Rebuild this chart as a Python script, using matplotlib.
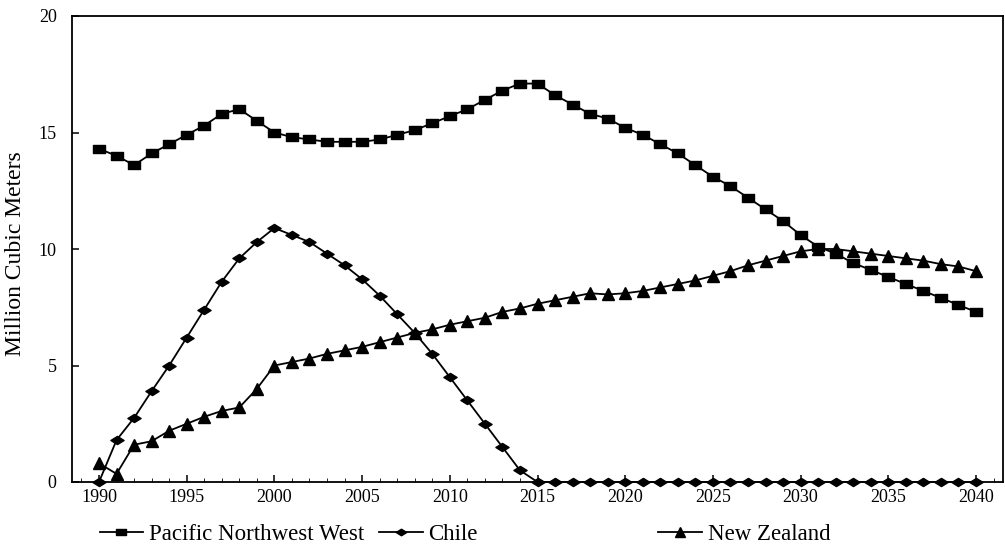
import matplotlib
matplotlib.use("Agg")
import matplotlib.pyplot as plt
from matplotlib.path import Path
from matplotlib.ticker import MultipleLocator

plt.rcParams['font.family'] = ['Liberation Serif', 'DejaVu Serif']

years = list(range(1990, 2041))

pnw = [14.3, 14.0, 13.6, 14.1, 14.5, 14.9, 15.3, 15.8, 16.0, 15.5,
       15.0, 14.8, 14.7, 14.6, 14.6, 14.6, 14.7, 14.9, 15.1, 15.4,
       15.7, 16.0, 16.4, 16.8, 17.1, 17.1, 16.6, 16.2, 15.8, 15.6,
       15.2, 14.9, 14.5, 14.1, 13.6, 13.1, 12.7, 12.2, 11.7, 11.2,
       10.6, 10.1, 9.8, 9.4, 9.1, 8.8, 8.5, 8.2, 7.9, 7.6,
       7.3]

chile = [0.0, 1.8, 2.75, 3.9, 5.0, 6.2, 7.4, 8.6, 9.6, 10.3,
         10.9, 10.6, 10.3, 9.8, 9.3, 8.7, 8.0, 7.2, 6.4, 5.5,
         4.5, 3.5, 2.5, 1.5, 0.5] + [0.0] * 26

nz = [0.8, 0.35, 1.6, 1.75, 2.2, 2.5, 2.8, 3.05, 3.2, 4.0,
      5.0, 5.15, 5.3, 5.5, 5.65, 5.8, 6.0, 6.2, 6.4, 6.55,
      6.75, 6.9, 7.05, 7.3, 7.45, 7.65, 7.8, 7.95, 8.1, 8.05,
      8.1, 8.2, 8.35, 8.5, 8.65, 8.85, 9.05, 9.3, 9.5, 9.7,
      9.9, 10.0, 10.0, 9.9, 9.8, 9.7, 9.6, 9.5, 9.35, 9.25,
      9.05]

labels = ['Pacific Northwest West', 'Chile', 'New Zealand']

# flat rectangle and squashed diamond markers
rect = Path([(-0.7, -0.45), (0.7, -0.45), (0.7, 0.45), (-0.7, 0.45), (-0.7, -0.45)],
            [Path.MOVETO, Path.LINETO, Path.LINETO, Path.LINETO, Path.CLOSEPOLY])
diam = Path([(-1, 0), (0, 0.62), (1, 0), (0, -0.62), (-1, 0)],
            [Path.MOVETO, Path.LINETO, Path.LINETO, Path.LINETO, Path.CLOSEPOLY])

fig = plt.figure(figsize=(10.05, 5.48), dpi=100)
ax = fig.add_axes([72 / 1005, 1 - 482 / 548, (1003 - 72) / 1005, (482 - 16) / 548])

l1, = ax.plot(years, pnw, color='black', lw=1.3, marker=rect, ms=9, clip_on=False)
l2, = ax.plot(years, chile, color='black', lw=1.3, marker=diam, ms=9.5, clip_on=False)
l3, = ax.plot(years, nz, color='black', lw=1.3, marker='^', ms=9, clip_on=False)

ax.set_xlim(1988.46, 2041.54)
ax.set_ylim(0, 20)
ax.set_yticks([0, 5, 10, 15, 20])
ax.xaxis.set_major_locator(MultipleLocator(5))
ax.xaxis.set_minor_locator(MultipleLocator(1))
ax.tick_params(axis='both', direction='in', labelsize=13, width=1.1)
ax.tick_params(axis='x', which='major', length=5, pad=5)
ax.tick_params(axis='x', which='minor', length=3, direction='in')
ax.tick_params(axis='y', length=5, pad=11)
for s in ax.spines.values():
    s.set_linewidth(1.3)
ax.set_ylabel('Million Cubic Meters', fontsize=17)
ax.yaxis.set_label_coords(-46 / 931, 0.49)

# one legend entry per slot under the axes
for h, lab, x0 in zip([l1, l2, l3], labels, [0.09, 0.368, 0.646]):
    fig.legend([h], [lab], loc='center left', bbox_to_anchor=(x0, 0.025),
               frameon=False, fontsize=16.5, handlelength=1.9, handletextpad=0.25,
               markerscale=0.8, borderaxespad=0)

fig.savefig('out.png', dpi=100)
